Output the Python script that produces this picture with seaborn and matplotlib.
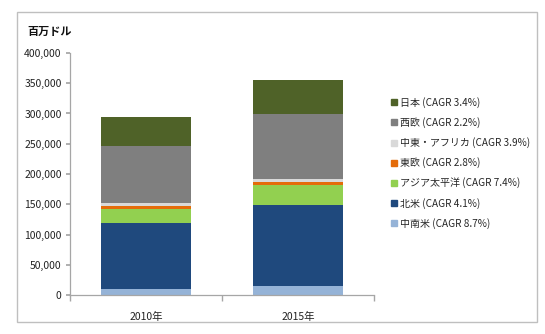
import matplotlib
matplotlib.use("Agg")
import matplotlib.pyplot as plt
from matplotlib.patches import Rectangle
from matplotlib.lines import Line2D
import numpy as np
import pandas as pd
import seaborn as sns

# Market size by region (million USD), stacked bottom -> top
years = ["2010年", "2015年"]
regions = ["中南米", "北米", "アジア太平洋", "東欧", "中東・アフリカ", "西欧", "日本"]
cagr = ["8.7%", "4.1%", "7.4%", "2.8%", "3.9%", "2.2%", "3.4%"]
values_2010 = [10500, 108500, 23000, 5000, 5000, 95000, 47000]
values_2015 = [15500, 134000, 32000, 5500, 5500, 107000, 55500]
colors = ["#95B3D7", "#1F497D", "#92D050", "#E46C0A", "#D9D9D9", "#7F7F7F", "#4F6228"]
yticks = [0, 50000, 100000, 150000, 200000, 250000, 300000, 350000, 400000]

sns.set_theme(style="white")
plt.rcParams["font.family"] = ["Noto Sans CJK JP", "DejaVu Sans"]

fig = plt.figure(figsize=(5.45, 3.34), dpi=100)
ax = fig.add_axes([70 / 545, 1 - 295 / 334, 304 / 545, 242 / 334])

# Outer chart frame
fig.patches.append(Rectangle((17 / 545, 1 - 322 / 334), 520 / 545, 310 / 334,
                             transform=fig.transFigure, fill=False,
                             edgecolor="#BFBFBF", linewidth=1.0))

data = np.array([values_2010, values_2015])
cum = np.cumsum(data, axis=1)

# Draw cumulative totals from the top layer down so each segment shows
for i in range(len(regions) - 1, -1, -1):
    df = pd.DataFrame({"year": years, "value": cum[:, i]})
    sns.barplot(data=df, x="year", y="value", color=colors[i], ax=ax,
                width=0.59, saturation=1, edgecolor="none", linewidth=0)

ax.set_xlim(-0.5, 1.5)
ax.set_ylim(0, 400000)
ax.set_yticks(yticks)
ax.set_yticklabels([f"{v:,}" for v in yticks], fontsize=7.5, color="#222222")
ax.set_xticks([0, 1])
ax.set_xticklabels(years, fontsize=7.5, color="#222222")
ax.set_xlabel("")
ax.set_ylabel("")

for s in ["top", "right"]:
    ax.spines[s].set_visible(False)
for s in ["left", "bottom"]:
    ax.spines[s].set_color("#A6A6A6")
    ax.spines[s].set_linewidth(0.9)

ax.tick_params(axis="y", which="both", left=True, length=3, color="#A6A6A6",
               pad=3)
ax.tick_params(axis="x", bottom=False, pad=6)
# x ticks at category boundaries
ax.set_xticks([-0.5, 0.5, 1.5], minor=True)
ax.tick_params(axis="x", which="minor", bottom=True, length=4,
               color="#A6A6A6", direction="out")

fig.text(27 / 545, 1 - 31 / 334, "百万ドル", fontsize=8, fontweight="bold",
         va="center", ha="left", color="#111111")

handles = [Line2D([], [], linestyle="none", marker="s", markersize=5,
                  markerfacecolor=colors[i], markeredgecolor=colors[i])
           for i in range(len(regions) - 1, -1, -1)]
labels = [f"{regions[i]} (CAGR {cagr[i]})" for i in range(len(regions) - 1, -1, -1)]
fig.legend(handles, labels, loc="upper left",
           bbox_to_anchor=(391 / 545, 1 - 97 / 334), frameon=False,
           fontsize=7.2, handlelength=0.6, handletextpad=0.3,
           labelspacing=0.92, borderaxespad=0, borderpad=0)

fig.savefig("out.png", dpi=100)
